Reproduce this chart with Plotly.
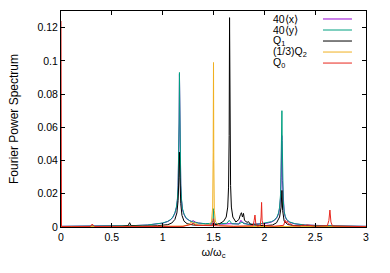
import plotly.graph_objects as go

# ---- data ----
px_x = [0, 0.1, 0.3, 0.5, 0.7, 0.85, 0.95, 1.00, 1.05, 1.08, 1.10, 1.12, 1.135, 1.145, 1.152, 1.158, 1.162, 1.165,
        1.168, 1.172, 1.178, 1.185, 1.195, 1.21, 1.23, 1.26, 1.28, 1.30, 1.32, 1.35, 1.42, 1.50, 1.58, 1.66, 1.75,
        1.77, 1.79, 1.85, 1.95, 2.02, 2.07, 2.10, 2.125, 2.14, 2.15, 2.16, 2.166, 2.172, 2.178, 2.186, 2.195,
        2.205, 2.22, 2.25, 2.30, 2.40, 2.55, 2.7, 2.85, 3.0]
px_y = [0.0004, 0.0004, 0.0005, 0.0006, 0.0008, 0.0012, 0.0018, 0.0023, 0.0033, 0.0044, 0.0058, 0.0082, 0.0115,
        0.016, 0.024, 0.038, 0.062, 0.092, 0.068, 0.043, 0.025, 0.016, 0.0105, 0.0075, 0.0052, 0.0040, 0.0032,
        0.0038, 0.0030, 0.0024, 0.0019, 0.0020, 0.0017, 0.0020, 0.0018, 0.0040, 0.0025, 0.0015, 0.0017, 0.0022,
        0.0030, 0.0040, 0.0058, 0.0080, 0.011, 0.018, 0.030, 0.055, 0.028, 0.015, 0.0090, 0.0062, 0.0042, 0.0028,
        0.0019, 0.0012, 0.0008, 0.0006, 0.0005, 0.0004]

py_x = [0, 0.1, 0.3, 0.5, 0.7, 0.85, 0.95, 1.00, 1.05, 1.08, 1.10, 1.12, 1.135, 1.145, 1.152, 1.158, 1.162, 1.165,
        1.168, 1.172, 1.178, 1.185, 1.195, 1.21, 1.23, 1.26, 1.30, 1.35, 1.42, 1.48, 1.495, 1.50, 1.505, 1.52,
        1.58, 1.63, 1.655, 1.68, 1.75, 1.78, 1.80, 1.85, 1.95, 2.02, 2.07, 2.10, 2.125, 2.14, 2.15, 2.16, 2.166,
        2.170, 2.173, 2.176, 2.180, 2.186, 2.195, 2.205, 2.22, 2.25, 2.30, 2.40, 2.55, 2.7, 2.85, 3.0]
py_y = [0.0004, 0.0004, 0.0005, 0.0006, 0.0008, 0.0012, 0.0018, 0.0024, 0.0034, 0.0046, 0.0060, 0.0085, 0.012,
        0.017, 0.025, 0.040, 0.065, 0.093, 0.070, 0.045, 0.026, 0.017, 0.011, 0.0078, 0.0055, 0.0040, 0.0030,
        0.0024, 0.0020, 0.0022, 0.0040, 0.011, 0.0030, 0.0018, 0.0018, 0.0022, 0.0040, 0.0020, 0.0018, 0.0030,
        0.0020, 0.0016, 0.0018, 0.0024, 0.0032, 0.0042, 0.0060, 0.0085, 0.012, 0.020, 0.035, 0.055, 0.070, 0.052,
        0.030, 0.016, 0.0095, 0.0065, 0.0045, 0.0030, 0.0020, 0.0012, 0.0008, 0.0006, 0.0005, 0.0004]

q1_x = [0, 0.3, 0.6, 0.66, 0.675, 0.69, 0.8, 0.95, 1.05, 1.09, 1.12, 1.14, 1.152, 1.16, 1.165, 1.17, 1.178, 1.19,
        1.21, 1.24, 1.30, 1.40, 1.50, 1.56, 1.60, 1.625, 1.64, 1.648, 1.654, 1.658, 1.662, 1.668, 1.676, 1.69,
        1.72, 1.75, 1.765, 1.775, 1.785, 1.795, 1.805, 1.815, 1.83, 1.845, 1.86, 1.9, 2.0, 2.08, 2.12, 2.15,
        2.165, 2.173, 2.18, 2.195, 2.23, 2.3, 2.5, 3.0]
q1_y = [0.0003, 0.0003, 0.0004, 0.0008, 0.0026, 0.0008, 0.0005, 0.0008, 0.0014, 0.0024, 0.0045, 0.0085, 0.016,
        0.030, 0.045, 0.030, 0.014, 0.0070, 0.0035, 0.0020, 0.0012, 0.0010, 0.0012, 0.0020, 0.0035, 0.0060,
        0.012, 0.024, 0.055, 0.126, 0.060, 0.025, 0.012, 0.0060, 0.0030, 0.0045, 0.0075, 0.0086, 0.0060,
        0.0082, 0.0040, 0.0035, 0.0028, 0.0032, 0.0018, 0.0012, 0.0008, 0.0012, 0.0025, 0.0060, 0.012, 0.022,
        0.010, 0.0035, 0.0015, 0.0008, 0.0004, 0.0003]

q2_x = [0, 0.5, 1.0, 1.2, 1.26, 1.28, 1.30, 1.32, 1.35, 1.45, 1.48, 1.492, 1.497, 1.500, 1.503, 1.508, 1.52, 1.56,
        1.7, 2.0, 2.2, 2.5, 3.0]
q2_y = [0.0002, 0.0002, 0.0003, 0.0005, 0.0015, 0.0030, 0.0018, 0.0025, 0.0010, 0.0012, 0.0030, 0.012, 0.045,
        0.099, 0.040, 0.010, 0.0030, 0.0008, 0.0004, 0.0003, 0.0004, 0.0002, 0.0002]

q0_x = [0, 0.005, 0.1, 0.29, 0.30, 0.308, 0.316, 0.33, 0.6, 1.0, 1.2, 1.28, 1.3, 1.32, 1.49, 1.50, 1.51, 1.7,
        1.89, 1.9, 1.908, 1.916, 1.93, 1.96, 1.968, 1.973, 1.978, 1.99, 2.1, 2.19, 2.205, 2.215, 2.225, 2.24,
        2.255, 2.28, 2.35, 2.38, 2.40, 2.42, 2.5, 2.62, 2.635, 2.645, 2.655, 2.67, 2.8, 3.0]
q0_y = [0.124, 0.0003, 0.0002, 0.0003, 0.0012, 0.0018, 0.0010, 0.0003, 0.0002, 0.0003, 0.0004, 0.0015, 0.0025,
        0.0010, 0.0008, 0.0050, 0.0008, 0.0004, 0.0008, 0.0040, 0.0072, 0.0020, 0.0005, 0.0010, 0.0060, 0.0148,
        0.0040, 0.0008, 0.0005, 0.0010, 0.0040, 0.0025, 0.0035, 0.0015, 0.0020, 0.0008, 0.0006, 0.0012, 0.0008,
        0.0012, 0.0005, 0.0008, 0.0040, 0.0102, 0.0030, 0.0006, 0.0003, 0.0002]

names = ["40⟨x⟩", "40⟨y⟩", "Q<sub>1</sub>", "(1/3)Q<sub>2</sub>", "Q<sub>0</sub>"]
colors = ["#9400d3", "#00a080", "#000000", "#f0b020", "#e8261c"]
x_ticks = [0, 0.5, 1, 1.5, 2, 2.5, 3]
x_tick_text = ["0", "0.5", "1", "1.5", "2", "2.5", "3"]
y_ticks = [0, 0.02, 0.04, 0.06, 0.08, 0.1, 0.12]
y_tick_text = ["0", "0.02", "0.04", "0.06", "0.08", "0.1", "0.12"]

series = [(px_x, px_y), (py_x, py_y), (q1_x, q1_y), (q2_x, q2_y), (q0_x, q0_y)]

fig = go.Figure()
for (xs, ys), nm, c in zip(series, names, colors):
    fig.add_trace(go.Scatter(x=xs, y=ys, mode="lines", name=nm,
                             line=dict(color=c, width=1), showlegend=False))

# gnuplot-style key: text on the left, sample line on the right
FONT = "Liberation Sans, Arial, sans-serif"
key_top = 0.963
key_step = 0.051
for i, (nm, c) in enumerate(zip(names, colors)):
    yk = key_top - i * key_step
    fig.add_annotation(xref="paper", yref="paper", x=0.689, y=yk, text=nm, showarrow=False,
                       xanchor="left", yanchor="middle", font=dict(family=FONT, size=10.5, color="#000"))
    fig.add_shape(type="line", xref="paper", yref="paper", x0=0.859, x1=0.954, y0=yk, y1=yk,
                  line=dict(color=c, width=1))

axis_common = dict(showgrid=False, zeroline=False, ticks="inside", ticklen=4, tickcolor="#000",
                   showline=True, linecolor="#000", linewidth=1, mirror="allticks", automargin=False,
                   tickfont=dict(family=FONT, size=10.5, color="#000"))

fig.update_xaxes(range=[0, 3], tickvals=x_ticks, ticktext=x_tick_text,
                 title=dict(text="ω/ω<sub>c</sub>", font=dict(family=FONT, size=11, color="#000"), standoff=6),
                 **axis_common)
fig.update_yaxes(range=[0, 0.13], tickvals=y_ticks, ticktext=y_tick_text,
                 title=dict(text="Fourier Power Spectrum", font=dict(family=FONT, size=12, color="#000"),
                            standoff=16),
                 **axis_common)

fig.update_layout(width=390, height=273, margin=dict(l=61, r=24, t=11, b=46),
                  plot_bgcolor="white", paper_bgcolor="white", showlegend=False)

fig.write_html("out.html", config={"displayModeBar": False, "staticPlot": True},
               post_script="document.body.style.margin='0';document.body.style.padding='0';")
